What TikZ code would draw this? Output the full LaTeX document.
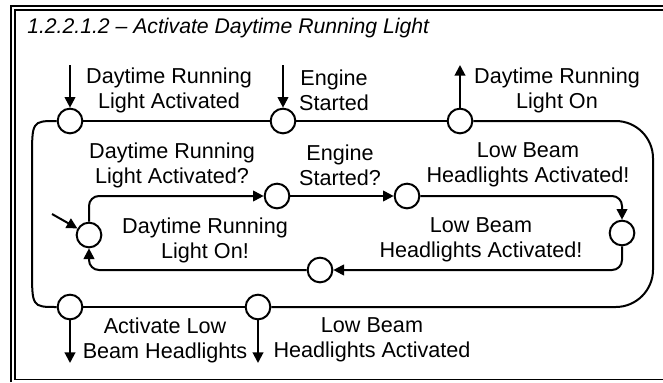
\documentclass[tikz,border=0pt]{standalone}
\usepackage{fontspec}
\setmainfont{Liberation Sans}
\usetikzlibrary{arrows.meta,backgrounds}

\begin{document}
\begin{tikzpicture}[
  x=0.75pt, y=-0.75pt,
  font=\fontsize{16.2}{18.75}\selectfont,
  port/.style={draw, circle, line width=1.5pt, fill=white, minimum size=18.5pt, inner sep=0pt},
  lbl/.style={align=center, inner sep=0pt},
  wire/.style={line width=1.5pt},
  flow/.style={wire, -{Triangle[length=8pt,width=8pt]}},
  frame/.style={line width=1pt}
]
\useasboundingbox (0,0) rectangle (663,382);

% double frame, cropped on the right
\draw[frame] (11,382) -- (11,6) -- (663,6);
\draw[frame] (663,379.5) -- (15,379.5) -- (15,10) -- (663,10);
\node[anchor=base west, inner sep=0pt, font=\fontsize{15.9}{18.75}\selectfont\itshape] (title) at (27,33)
  {1.2.2.1.2 – Activate Daytime Running Light};

% outer ports
\node[port] (otl) at (70,121) {};
\node[port] (otm) at (283,121) {};
\node[port] (otr) at (460,121) {};
\node[port] (obl) at (70,307) {};
\node[port] (obm) at (258,307) {};

% inner ports
\node[port] (lft) at (89,235) {};
\node[port] (ti) at (277,196) {};
\node[port] (ts) at (407,196) {};
\node[port] (rt) at (622,233) {};
\node[port] (bt) at (320,270) {};

\coordinate (ne) at (653,121);
\coordinate (se) at (653,307);
\coordinate (in1) at (70,65);
\coordinate (in2) at (283,65);
\coordinate (out1) at (460,65);
\coordinate (dn1) at (70,363);
\coordinate (dn2) at (258,363);
\coordinate (in3) at (52,214);

% outer loop
\begin{scope}[on background layer]
\draw[wire] (otl) -- (otm) -- (otr);
\draw[wire, rounded corners=28pt] (otr) -- (ne) -- (se) -- (obm);
\draw[wire] (obm) -- (obl);
\draw[wire] (otl) .. controls (32,121) .. (32,160) -- (32,268) .. controls (32,307) .. (obl);
\end{scope}

\draw[flow] (in1) -- (otl);
\draw[flow] (in2) -- (otm);
\draw[flow] (otr) -- (out1);
\draw[flow] (obl) -- (dn1);
\draw[flow] (obm) -- (dn2);

% inner loop
\draw[flow, rounded corners=7.5pt] (lft) |- (ti);
\draw[flow] (ti) -- (ts);
\draw[flow, rounded corners=7.5pt] (ts) -| (rt);
\draw[flow, rounded corners=7.5pt] (rt) |- (bt);
\draw[flow, rounded corners=7.5pt] (bt) -| (lft);
\draw[flow] (in3) -- (lft);

% labels
\node[lbl] (dral) at (169,90) {Daytime Running\\Light Activated};
\node[lbl] (es) at (334,90) {Engine\\Started};
\node[lbl] (drlo) at (557,90) {Daytime Running\\Light On};
\node[lbl] (draq) at (172,165) {Daytime Running\\Light Activated?};
\node[lbl] (esq) at (340,165) {Engine\\Started?};
\node[lbl] (lbha) at (528,165) {Low Beam\\Headlights Activated!};
\node[lbl] (drlx) at (205,240) {Daytime Running\\Light On!};
\node[lbl] (lbhx) at (481,240) {Low Beam\\Headlights Activated!};
\node[lbl] (albh) at (165,340) {Activate Low\\Beam Headlights};
\node[lbl] (lbhd) at (372,340) {Low Beam\\Headlights Activated};

\end{tikzpicture}
\end{document}
